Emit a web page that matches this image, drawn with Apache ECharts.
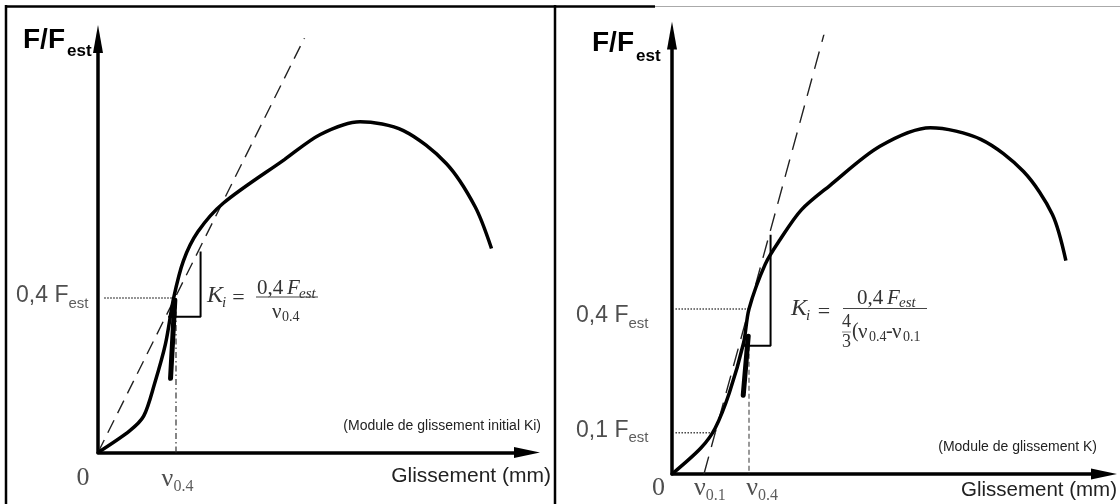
<!DOCTYPE html>
<html>
<head>
<meta charset="utf-8">
<script src="https://cdn.jsdelivr.net/npm/echarts@6/dist/echarts.min.js"></script>
<style>
html, body { margin: 0; padding: 0; background: #fff; }
#main { width: 1120px; height: 504px; }
</style>
</head>
<body>
<div id="main"></div>
<script>
// courbe gauche : module de glissement initial Ki
const leftSlip  = [0, 0.81, 1.17, 1.45, 1.73, 1.94, 2.19, 2.56, 3.21, 4.78, 5.70, 6.72, 7.83, 8.93, 9.67, 10.09];
const leftForce = [0, 0.056, 0.094, 0.178, 0.281, 0.40, 0.496, 0.571, 0.645, 0.758, 0.823, 0.856, 0.833, 0.748, 0.636, 0.528];
// courbe droite : module de glissement K
const rightSlip  = [0, 0.75, 1.12, 1.49, 1.86, 2.0, 2.42, 2.80, 3.36, 4.10, 5.40, 6.71, 8.02, 9.13, 9.88, 10.23];
const rightForce = [0, 0.063, 0.111, 0.197, 0.318, 0.40, 0.508, 0.567, 0.640, 0.699, 0.794, 0.839, 0.811, 0.733, 0.629, 0.517];

// droites en tirets (tangente / sécante)
const leftTangentSlip = [0, 5.33];
const leftTangentForce = [0, 1.08];
const rightSecantSlip = [0.83, 3.99];
const rightSecantForce = [0, 1.08];

// niveaux et glissements de référence
const nu04 = 2.0;
const nu01 = 0.83;
const leftLevelSlip = [0.16, 1.97];
const leftLevelForce = [0.4, 0.4];
const rightLevel04Slip = [0.09, 2.0];
const rightLevel04Force = [0.4, 0.4];
const rightLevel01Slip = [0.09, 1.14];
const rightLevel01Force = [0.1, 0.1];

// petits triangles de pente
const leftTriSlip = [1.80, 2.63, 2.63];
const leftTriForce = [0.351, 0.351, 0.52];
const rightTriSlip = [1.84, 2.56, 2.56];
const rightTriForce = [0.311, 0.311, 0.58];
// trait épais sous le point 0,4
const leftMarkSlip = [1.97, 1.86];
const leftMarkForce = [0.394, 0.192];
const rightMarkSlip = [1.98, 1.85];
const rightMarkForce = [0.334, 0.191];

// graduations
const leftXTicks = [0, nu04];
const leftXTickText = ['{n|0}', '{n|ν}{ns|0.4}'];
const leftYTicks = [0.4];
const leftYTickText = ['{f|0,4 F}{fs|est}'];
const rightXTicks = [0, nu01, nu04];
const rightXTickText = ['{n|0}', '{n|ν}{ns|0.1}', '{n|ν}{ns|0.4}'];
const rightYTicks = [0.4, 0.1];
const rightYTickText = ['{f|0,4 F}{fs|est}', '{f|0,1 F}{fs|est}'];

const zip = (xs, ys) => xs.map((x, i) => [x, ys[i]]);

const tickRich = {
  n:  { fontFamily: 'Liberation Serif', fontSize: 26, color: '#222', lineHeight: 30, verticalAlign: 'middle' },
  ns: { fontFamily: 'Liberation Serif', fontSize: 16, color: '#333', lineHeight: 12, verticalAlign: 'bottom' },
  f:  { fontFamily: 'Liberation Sans', fontSize: 23, color: '#222', lineHeight: 30, verticalAlign: 'middle' },
  fs: { fontFamily: 'Liberation Sans', fontSize: 15, color: '#333', lineHeight: 12, verticalAlign: 'bottom' }
};

function lineSeries(g, xs, ys, style, z) {
  return {
    type: 'line', xAxisIndex: g, yAxisIndex: g, data: zip(xs, ys),
    symbol: 'none', silent: true, animation: false, z: z || 2,
    lineStyle: style
  };
}

function tickSeries(g, xs, ys, texts, offsets, pos, dist) {
  return {
    type: 'scatter', xAxisIndex: g, yAxisIndex: g, symbolSize: 1, silent: true, animation: false,
    itemStyle: { color: 'rgba(0,0,0,0)' },
    data: xs.map((x, i) => ({
      value: [x, ys[i]],
      label: { show: true, formatter: texts[i], position: pos, distance: dist, offset: offsets[i], rich: tickRich }
    }))
  };
}

function axis(g, max, arrow) {
  return {
    gridIndex: g, type: 'value', min: 0, max: max,
    axisLine: { show: true, onZero: false, symbol: ['none', 'triangle'], symbolSize: arrow,
      lineStyle: { color: '#000', width: 3.5 } },
    axisTick: { show: false }, axisLabel: { show: false }, splitLine: { show: false }
  };
}

function txt(x, y, s, font, align, color) {
  return { type: 'text', x: x, y: y, silent: true,
    style: { text: s, font: font, fill: color || '#222', textAlign: align || 'left', textVerticalAlign: 'middle' } };
}
function ln(x1, y1, x2, y2, w, color) {
  return { type: 'line', silent: true, shape: { x1: x1, y1: y1, x2: x2, y2: y2 },
    style: { stroke: color || '#000', lineWidth: w } };
}

const sansB = 'bold 28px "Liberation Sans"';
const sansBs = 'bold 17px "Liberation Sans"';
const serifI = 'italic 24px "Liberation Serif"';
const serifIs = 'italic 15px "Liberation Serif"';
const serif = '21px "Liberation Serif"';
const serifS = '14px "Liberation Serif"';

const curveStyle = { color: '#000', width: 3.5 };
const dashStyle = { color: '#222', width: 1.4, type: [14, 8] };
const dashStyleR = { color: '#222', width: 1.4, type: [18, 10] };
const dotStyle = { color: '#444', width: 1.5, type: [1.5, 1.5] };
const triStyle = { color: '#000', width: 2 };
const markStyle = { color: '#000', width: 5, cap: 'round' };

const chart = echarts.init(document.getElementById('main'));
chart.setOption({
  animation: false,
  backgroundColor: '#fff',
  grid: [
    { left: 98, top: 39, width: 429, height: 413.5, containLabel: false, outerBoundsMode: 'none' },
    { left: 672, top: 35.5, width: 432, height: 438.5, containLabel: false, outerBoundsMode: 'none' }
  ],
  xAxis: [axis(0, 11.0, [11, 26]), axis(1, 11.22, [11, 26])],
  yAxis: [axis(0, 1.07, [10, 28]), axis(1, 1.0625, [10, 28])],
  series: [
    lineSeries(0, leftTangentSlip, leftTangentForce, dashStyle),
    lineSeries(0, leftLevelSlip, leftLevelForce, dotStyle),
    lineSeries(0, [nu04, nu04], [0.4, 0], { color: '#333', width: 1.2, type: [6, 3, 1.5, 3] }),
    lineSeries(0, leftTriSlip, leftTriForce, triStyle),
    lineSeries(0, leftMarkSlip, leftMarkForce, markStyle, 4),
    Object.assign(lineSeries(0, leftSlip, leftForce, curveStyle, 3), { smooth: 0.3 }),
    tickSeries(0, leftXTicks, [0, 0], leftXTickText, [[-15, 25.5], [1.5, 27]], 'inside', 0),
    tickSeries(0, [0], leftYTicks, leftYTickText, [[0, -2]], 'left', 9),

    lineSeries(1, rightSecantSlip, rightSecantForce, dashStyleR),
    lineSeries(1, rightLevel04Slip, rightLevel04Force, dotStyle),
    lineSeries(1, rightLevel01Slip, rightLevel01Force, dotStyle),
    lineSeries(1, [nu04, nu04], [0.311, 0], { color: '#555', width: 1.2, type: [5, 3] }),
    lineSeries(1, rightTriSlip, rightTriForce, triStyle),
    lineSeries(1, rightMarkSlip, rightMarkForce, markStyle, 4),
    Object.assign(lineSeries(1, rightSlip, rightForce, curveStyle, 3), { smooth: 0.3 }),
    tickSeries(1, rightXTicks, [0, 0, 0], rightXTickText, [[-13.5, 14.5], [6, 14.5], [13, 14.5]], 'inside', 0),
    tickSeries(1, [0, 0], rightYTicks, rightYTickText, [[0, 7], [0, -2]], 'left', 23)
  ],
  graphic: { elements: [
    // cadres
    ln(6, 5, 6, 504, 2.5),
    ln(5, 6.5, 655, 6.5, 2.5),
    ln(555, 5, 555, 504, 2.5),
    ln(655, 6.5, 1120, 6.5, 1, '#aaa'),

    // panneau gauche
    txt(23, 40, 'F/F', sansB, 'left', '#000'),
    txt(67, 51, 'est', sansBs, 'left', '#000'),
    txt(551, 476, 'Glissement (mm)', '21px "Liberation Sans"', 'right'),
    txt(541, 426, '(Module de glissement initial Ki)', '14px "Liberation Sans"', 'right'),
    txt(207, 296, 'K', serifI, 'left', '#333'),
    txt(222, 303.5, 'i', serifIs, 'left', '#333'),
    txt(238.5, 298, '=', '22px "Liberation Serif"', 'center', '#333'),
    txt(257, 288.5, '0,4', serif, 'left', '#333'),
    txt(287, 288.5, 'F', 'italic 21px "Liberation Serif"', 'left', '#333'),
    txt(299, 294, 'est', 'italic 15px "Liberation Serif"', 'left', '#333'),
    ln(256, 297, 318, 297, 1.2, '#444'),
    txt(272, 312, 'ν', serif, 'left', '#333'),
    txt(282, 317.5, '0.4', serifS, 'left', '#333'),

    // panneau droit
    txt(592, 43, 'F/F', sansB, 'left', '#000'),
    txt(636, 56, 'est', sansBs, 'left', '#000'),
    txt(1117, 490, 'Glissement (mm)', '20.5px "Liberation Sans"', 'right'),
    txt(1097, 447, '(Module de glissement K)', '14px "Liberation Sans"', 'right'),
    txt(791, 309, 'K', serifI, 'left', '#333'),
    txt(806, 316.5, 'i', serifIs, 'left', '#333'),
    txt(824, 312, '=', '22px "Liberation Serif"', 'center', '#333'),
    txt(857, 298, '0,4', serif, 'left', '#333'),
    txt(887, 298, 'F', 'italic 21px "Liberation Serif"', 'left', '#333'),
    txt(899, 303.5, 'est', 'italic 15px "Liberation Serif"', 'left', '#333'),
    ln(843, 308.5, 927, 308.5, 1.2, '#444'),
    txt(846.5, 322.5, '4', '18px "Liberation Serif"', 'center', '#333'),
    ln(842, 332, 851, 332, 0.8, '#666'),
    txt(846.5, 342, '3', '18px "Liberation Serif"', 'center', '#333'),
    txt(852, 332, '(', '20px "Liberation Serif"', 'left', '#333'),
    txt(858, 332, 'ν', '21px "Liberation Serif"', 'left', '#333'),
    txt(869, 337.5, '0.4', '14px "Liberation Serif"', 'left', '#333'),
    txt(886, 332, '-', '20px "Liberation Serif"', 'left', '#333'),
    txt(892, 332, 'ν', '21px "Liberation Serif"', 'left', '#333'),
    txt(903, 337.5, '0.1', '14px "Liberation Serif"', 'left', '#333')
  ] }
});
</script>
</body>
</html>
